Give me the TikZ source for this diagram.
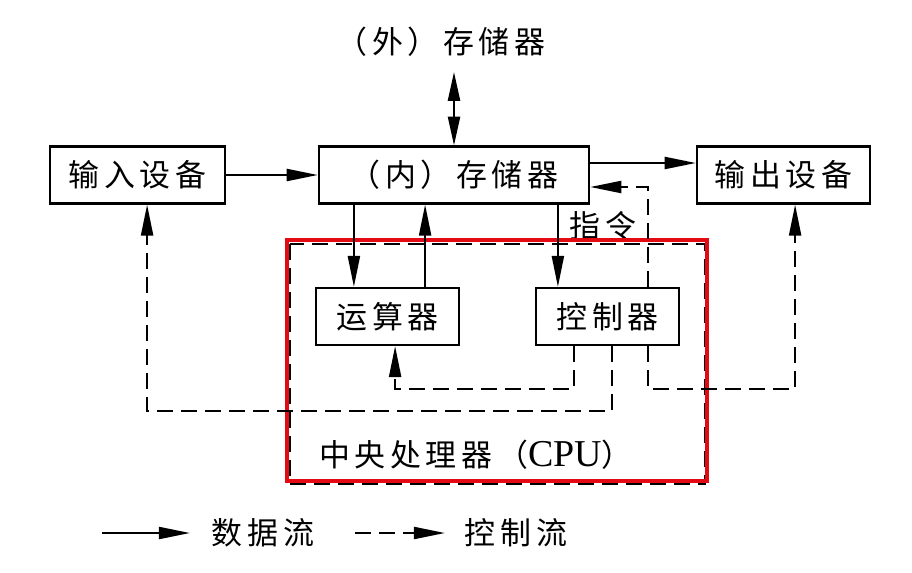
\documentclass[tikz,border=0pt]{standalone}
\usepackage{fontspec}
\setmainfont{Liberation Serif}
\newfontfamily\cjk[LetterSpace=15]{Noto Sans CJK SC}
\usetikzlibrary{arrows.meta}
\definecolor{cpured}{RGB}{228,10,20}

\begin{document}
\begin{tikzpicture}[x=0.025cm,y=-0.025cm,
        line width=1.6pt,
        txt/.style={font=\cjk\fontsize{22}{26}\selectfont,inner sep=0pt},
        unit/.style={txt,draw,minimum height=1.42cm},
        tip/.style={-{Triangle[length=0.78cm,width=0.3cm]}},
        data/.style={tip},
        ctrl/.style={tip,dash pattern=on 0.4cm off 0.2cm},
    ]
        \useasboundingbox (0,0) rectangle (912,572);

        % ~~~~ Unidades ~~~~ %
        \node[unit,minimum width=4.375cm] (in)  at (137.5,175) {输入设备};
        \node[unit,minimum width=6.75cm]  (mem) at (454,175)   {（内）存储器};
        \node[unit,minimum width=4.325cm] (out) at (783.5,175) {输出设备};
        \node[unit,minimum width=3.575cm] (alu) at (387.5,316.5) {运算器};
        \node[unit,minimum width=3.575cm] (cu)  at (607.5,316.5) {控制器};
        \node[txt] (ext) at (441,42) {（外）存储器};
        \node[txt] (cmd) at (603,226) {指令};

        % ~~~~ CPU ~~~~ %
        \draw[dash pattern=on 0.4cm off 0.2cm] (290,244) rectangle (705,484);
        \draw[cpured,line width=2.4pt] (287,240) rectangle (707,481);
        \node[txt] (cpu) at (476,455)
            {中央处理器（{\rmfamily\fontsize{27}{30}\selectfont CPU}）};

        % ~~~~ Flujo de datos ~~~~ %
        \coordinate (top) at (454,72);
        \draw[{Triangle[length=0.72cm,width=0.3cm]}-{Triangle[length=0.72cm,width=0.3cm]}]
            (top) -- (top |- mem.north);
        \draw[data] (in) -- (mem);
        \draw[data] ([yshift=0.3cm]mem.east) -- ([yshift=0.3cm]out.west);
        \coordinate (a1) at ([xshift=-0.84cm]alu.north);
        \coordinate (a2) at ([xshift=0.94cm]alu.north);
        \coordinate (c1) at ([xshift=-1.24cm]cu.north);
        \draw[data] (a1 |- mem.south) -- (a1);
        \draw[data] (a2) -- (a2 |- mem.south);
        \draw[data] (c1 |- mem.south) -- (c1);

        % ~~~~ Flujo de control ~~~~ %
        \coordinate (c2) at ([xshift=1.01cm]cu.north);
        \coordinate (c3) at ([xshift=-0.84cm]cu.south);
        \coordinate (c4) at ([xshift=0.11cm]cu.south);
        \coordinate (c5) at ([xshift=1.01cm]cu.south);
        \draw[ctrl] (c2) |- ([yshift=-0.3cm]mem.east);
        \draw[ctrl] (c3) -- ++(0,43) -| ([xshift=0.19cm]alu.south);
        \draw[ctrl] (c4) -- ++(0,65) -| ([xshift=0.24cm]in.south);
        \draw[ctrl] (c5) -- ++(0,43) -| ([xshift=0.29cm]out.south);

        % ~~~~ Leyenda ~~~~ %
        \coordinate (l1) at (102,533);
        \coordinate (l2) at (190,533);
        \coordinate (l3) at (355,533);
        \coordinate (l4) at (445,533);
        \draw[data] (l1) -- (l2);
        \node[txt] (lg1) at (263,533) {数据流};
        \draw[ctrl] (l3) -- (l4);
        \node[txt] (lg2) at (516,533) {控制流};
    \end{tikzpicture}
\end{document}
